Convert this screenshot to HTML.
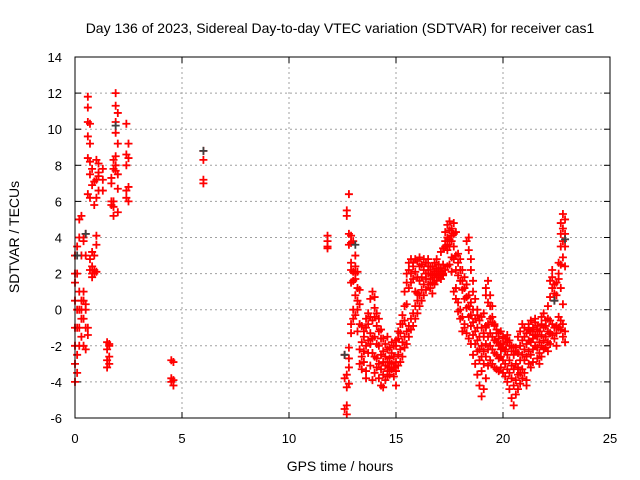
<!DOCTYPE html>
<html><head><meta charset="utf-8"><style>
body{margin:0;background:#fff}
svg{display:block;font-family:"Liberation Sans",sans-serif}
</style></head><body>
<svg id="chart" width="640" height="480">
<text x="340" y="33" text-anchor="middle" font-size="14">Day 136 of 2023, Sidereal Day-to-day VTEC variation (SDTVAR) for receiver cas1</text>
<text x="340" y="471" text-anchor="middle" font-size="14">GPS time / hours</text>
<text transform="translate(19,237) rotate(-90)" text-anchor="middle" font-size="14">SDTVAR / TECUs</text>
<g id="grid"></g>
<g id="axes"></g>
<g id="marks"></g>
<rect x="75" y="57" width="535" height="361" fill="none" stroke="#000"/>
</svg>
<script>
const xTicks=[0,5,10,15,20,25];
const yTicks=[-6,-4,-2,0,2,4,6,8,10,12,14];
const times=[0.0,0.1,0.2,0.3,0.4,0.5,0.6,0.7,0.8,0.9,1.0,1.1,1.3,1.5,1.6,1.7,1.8,1.9,2.0,2.4,2.5,4.5,4.6,6.0,11.8,12.6,12.7,12.8,12.9,13.0,13.1,13.2,13.3,13.4,13.5,13.6,13.7,13.8,13.9,14.0,14.1,14.2,14.3,14.4,14.5,14.6,14.7,14.8,14.9,15.0,15.1,15.2,15.3,15.4,15.5,15.6,15.7,15.8,15.9,16.0,16.1,16.2,16.3,16.4,16.5,16.6,16.7,16.8,16.9,17.0,17.1,17.2,17.3,17.4,17.5,17.6,17.7,17.8,17.9,18.0,18.1,18.2,18.3,18.4,18.5,18.6,18.7,18.8,18.9,19.0,19.1,19.2,19.3,19.4,19.5,19.6,19.7,19.8,19.9,20.0,20.1,20.2,20.3,20.4,20.5,20.6,20.7,20.8,20.9,21.0,21.1,21.2,21.3,21.4,21.5,21.6,21.7,21.8,21.9,22.0,22.1,22.2,22.3,22.4,22.5,22.6,22.7,22.8,22.9];
const valueGroups=[
[-1,2,3,-3,-4,1.5,0.5,-2],[-3.5,-2.5,2,3.5,-1,0],[4,5,-1,0,1,-2],[5.2,0,-0.5,0.5,-1.5,3],[0.5,-2,-0.5,1,4,3.8],[4.2,3,0,-1,-2.2,0.3],
[9.6,10.4,11.8,11.2,8.4,6.4,-1,-1.4],[9.2,10.3,8.2,7.5,6.2,2.8,2.2],[6.9,2,1.8,2.4,3.2,7.8],[2.2,2,3,7.1,5.8],[2.1,3.6,6.2,7.2,8.3,4.1],[7.6,8.1,6.6,7.4],[7.8,7.2,6.6],
[-1.8,-2.2,-3.2,-2.8],[-2,-2.6,-3,-1.9],[7,6,5.8,7.3],[6,5.2,5.7,8.3,7.8],[8.5,9.8,11.3,10.4,12,8,7.7],[9.2,7.5,10.9,6.7,5.4],[6.2,6.6,8,8.6,10.3],[6,8.4,6.8,9.2],
[-2.8,-3.8,-4],[-4.2,-3.9,-2.9],[8.8,8.3,7.2,7],[3.5,3.8,4.1,3.4],
[-2.5,-3.8,-5.5],[-5.8,-5.3,-4.3,-3.6,5.5,5.2],[6.4,-2.7,-2.1,-3.2,-4.1,4.2,3.6],[2.6,4.1,3.7,2.2,1.5,-0.8,-1.3],[3.8,2.1,0,-0.5,1.6],[1.7,2,3,2.4,0.8,-0.3],[1.2,0.5,2.1,0,-1.2],[0.3,1.1,-0.8,-2.2,-3],[-0.9,-1.8,-2.6,-3.3],[-1.2,-1.5,-2.3,-2.9],[-0.5,-1,-2,-3.4,-3.8],[-0.2,-0.8,-1.7,-2.4],[0.6,-0.4,-1.3,-1.9,-3.1],[1.0,-0.6,-1.6,-2.4,-3.9],[0.7,0.1,-0.4,-1.5,-2.6,-3.5],[-0.2,-0.9,-1.9,-2.7,-3.2],[-0.5,-1.2,-2,-3,-3.8],[-1.1,-1.6,-2.5,-3.3,-4.2],[-1.6,-2.3,-2.9,-3.6,-4.3],[-1.9,-2.6,-3.1,-3.9],[-2.2,-2.9,-3.4,-3.7,-1.5],[-2.1,-2.7,-3.2,-3.6],[-2.4,-3.0,-3.3,-1.8],[-2.6,-3.2,-3.7,-2.0],
[-2.0,-2.9,-3.4,-4.2,-1.7],[-1.6,-2.5,-3.1,-1.2],[-1.3,-2.2,-2.9,-0.8],[-0.8,-1.8,-2.6,-0.3],[-0.6,-1.5,-2.1,0.2,1.0],[0.3,-1.2,-1.9,1.5,2.0],[1.2,-0.9,-1.5,2.2,2.6],[2.0,-0.5,-1.1,2.8,1.5],[2.6,-0.2,-0.9,2.4,1.7],[2.8,0.2,-0.5,2.1,1.0],[2.7,0.5,-0.2,1.8,0.9],[2.9,0.8,0.2,2.4,1.6],[2.5,1.1,0.5,1.8],[2.8,1.4,0.8,2.2],[2.6,1.7,1.1,2.0],[2.8,2.0,1.4,2.4],[2.4,2.2,1.7,1.2],[1.9,2.4,1.5,0.9],[1.8,2.6,2.1,1.4],[2.0,2.3,1.6,2.8],[2.2,1.9,1.8,2.5],[2.3,2.1,1.7,3.2],[2.5,1.9,2.0,3.4],
[4.3,3.8,3.5,2.2],[4.7,4.0,3.6,3.3,2.4],[4.9,4.4,3.9,3.5,2.5],[4.5,4.1,3.8,2.1,2.9],[4.8,4.2,3.5,2.8,1.0],[4.3,3.0,2.2,1.2,0.6],[3.1,2.6,1.9,0.4,-0.1],[2.8,2.2,1.6,0.0,-0.5],[2.2,1.6,1.1,-0.4,-1.2],[1.8,1.2,0.6,-1.0,-0.8],[1.4,0.7,0.1,-1.3,3.8],[0.8,0.2,-0.4,-1.6,4.0,3.3],[0.4,-0.3,-0.9,-1.9,2.8,2.2],[0.0,-0.7,-1.4,-2.5,1.6,1.0],[-0.5,-1.2,-1.9,-3.0,0.6],[-1.0,-1.7,-2.3,-3.6,-0.3,0.0],[-1.5,-2.2,-2.8,-4.2,-0.6],
[-2.0,-2.6,-3.4,-4.8,-1.0,-0.4],[-1.5,-2.3,-3.0,-4.4,-1.3,-0.2],[-1.0,-1.9,-2.6,-3.8,-0.9,0.8,1.2],[-0.8,-1.5,-2.2,-3.1,0.4,1.6],[-0.5,-1.3,-2.0,-2.8,0.2,0.8],[-0.7,-1.5,-2.2,-3.0,-0.4,0.2],[-0.9,-1.7,-2.4,-3.2,-0.8],[-1.1,-1.8,-2.5,-3.3,-1.3],[-1.3,-2.0,-2.7,-3.4,-1.6],[-1.2,-1.9,-2.6,-3.2,-2.2],
[-1.5,-2.1,-2.8,-3.5,-1.9],[-1.6,-2.3,-3.0,-3.7,-2.2],[-1.8,-2.5,-3.3,-4.0,-1.4],[-2.0,-2.8,-3.5,-4.4,-1.7],[-2.3,-3.1,-3.8,-4.9,-2.0],[-2.5,-3.3,-4.2,-5.3,-2.1],[-2.1,-3.0,-3.9,-4.7,-2.3],[-2.4,-3.2,-3.6,-4.4,-1.5],[-2.0,-2.8,-3.5,-4.1,-1.2],[-1.7,-2.5,-3.3,-3.8,-0.8],
[-1.5,-2.2,-2.8,-3.5,-1.0],[-1.3,-1.9,-2.6,-3.9,-4.2],[-1.1,-1.7,-2.3,-3.0,-0.8],[-1.2,-1.8,-2.5,-3.2,-0.6],[-1.0,-1.6,-2.2,-2.9,-1.4],[-0.7,-1.4,-2.0,-0.5],[-0.9,-1.5,-2.1,-2.7,-1.1],[-1.2,-1.8,-2.4,-3.0],[-0.8,-1.4,-2.0,-2.6,-0.4],[-1.0,-1.7,-2.2,-0.2],
[-0.9,-1.5,-2.1,-0.6],[-1.2,-1.8,-2.3,0.2,-0.5],[-0.6,-1.3,-1.9,1.6,0.7],[-0.8,-1.4,1.8,2.2,1.2],[-1.0,-1.6,0.5,1.4,0.9],[-0.9,-1.3,0.8,1.5,-2.0],[-0.4,-1.0,1.7,2.6,2.0],[3.5,4.2,4.8,2.5,1.2,-0.6,-1.1],[4.5,5.3,3.8,2.9,-1.5,-0.8,0.3],[5.0,4.2,3.5,-1.2,-1.8,2.4]];
const greyTimes=[0.1,0.5,1.9,6.0,12.6,13.1,22.4,22.9];
const greyValues=[3.0,4.2,10.2,8.8,-2.5,3.6,0.5,3.9];

const X0=75,X1=610,Y0=418,Y1=57;
const xs=t=>X0+(t-0)/(25-0)*(X1-X0);
const ys=v=>Y0-(v+6)/(14+6)*(Y0-Y1);
const NS='http://www.w3.org/2000/svg';
const grid=document.getElementById('grid'),axes=document.getElementById('axes'),marks=document.getElementById('marks');
function mk(tag,attrs,parent){const e=document.createElementNS(NS,tag);for(const k in attrs)e.setAttribute(k,attrs[k]);parent.appendChild(e);return e;}
xTicks.forEach(t=>{const x=xs(t);
 if(t>0&&t<25){const g=mk('line',{x1:x,x2:x,y1:Y1,y2:Y0,stroke:'#a0a0a0','stroke-dasharray':'2,3'},grid);}
 mk('line',{x1:x,x2:x,y1:Y0,y2:Y0-6,stroke:'#000'},axes);mk('line',{x1:x,x2:x,y1:Y1,y2:Y1+6,stroke:'#000'},axes);
 const l=mk('text',{x:x,y:443,'text-anchor':'middle','font-size':'13'},axes);l.textContent=t;
 
 });
yTicks.forEach(v=>{const y=ys(v);
 if(v>-6&&v<14){const g=mk('line',{x1:X0,x2:X1,y1:y,y2:y,stroke:'#a0a0a0','stroke-dasharray':'2,3'},grid);}
 mk('line',{x1:X0,x2:X0+6,y1:y,y2:y,stroke:'#000'},axes);mk('line',{x1:X1,x2:X1-6,y1:y,y2:y,stroke:'#000'},axes);
 const l=mk('text',{x:62,y:y+5,'text-anchor':'end','font-size':'13'},axes);l.textContent=v;
 
 });
function plus(t,v,col){const x=xs(t),y=ys(v);
 const p=mk('path',{d:`M${x-4},${y}h8M${x},${y-4}v8`,stroke:col,'stroke-width':'1.8',fill:'none'},marks);
 
 }
times.forEach((t,i)=>valueGroups[i].forEach(v=>plus(t,v,'#ff0000')));
greyTimes.forEach((t,i)=>plus(t,greyValues[i],'#404040'));
</script>
</body></html>
